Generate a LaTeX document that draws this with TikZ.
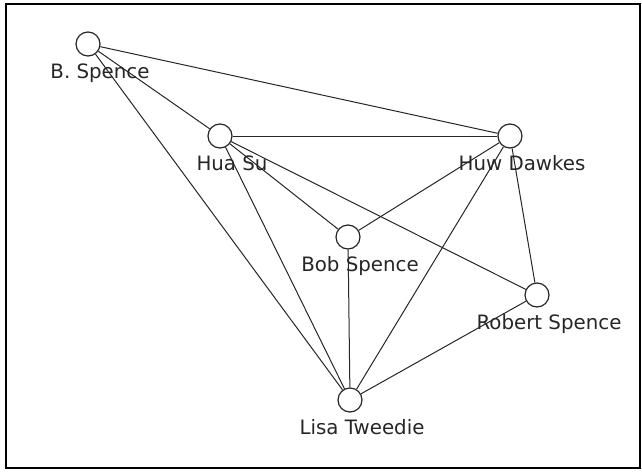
\documentclass[tikz,border=0pt]{standalone}
\usepackage{fontspec}
\setsansfont{DejaVu Sans}
\usetikzlibrary{calc}

\begin{document}
\begin{tikzpicture}[x=1pt,y=-1pt]
\tikzset{person/.style={circle,draw=linecol,fill=white,line width=1.2pt,minimum size=24pt,inner sep=0pt},
  who/.style={font=\sffamily\fontsize{19.8}{20}\selectfont,text=linecol,anchor=base,xshift=12pt,yshift=-21.5pt}}
\colorlet{linecol}{black!85}

\useasboundingbox (0,0) rectangle (642,471);
\draw[line width=2pt] (6,4) rectangle (640,468);

\node[person,label={[who]below:B. Spence}](BS)at(88,44){};
\node[person,label={[who]below:Hua Su}](HS)at(220,136){};
\node[person,label={[who]below:Huw Dawkes}](HD)at(510,136){};
\node[person,label={[who]below:Bob Spence}](BoS)at(348,237){};
\node[person,label={[who]below:Robert Spence}](RS)at(537,295){};
\node[person,label={[who]below:Lisa Tweedie}](LT)at(350,400){};

\foreach \a/\b in {BS/HS,BS/HD,BS/LT,HS/HD,HS/BoS,HS/RS,HS/LT,HD/BoS,HD/RS,HD/LT,BoS/LT,RS/LT}
  \draw[linecol,line width=1pt](\a)--(\b);
\end{tikzpicture}
\end{document}
